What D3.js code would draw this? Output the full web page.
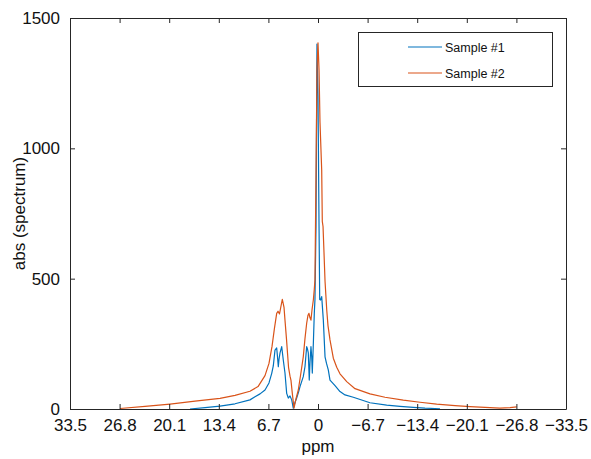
<!DOCTYPE html>
<html><head><meta charset="utf-8">
<script src="https://cdn.jsdelivr.net/npm/d3@7"></script>
<style>body{margin:0;background:#fff}svg{display:block;font-family:"Liberation Sans",Arial,Helvetica,sans-serif}</style>
</head><body><svg id="c" width="591" height="459"></svg>
<script>
const xTicks = [33.5, 26.8, 20.1, 13.4, 6.7, 0, -6.7, -13.4, -20.1, -26.8, -33.5];
const yTicks = [0, 500, 1000, 1500];
const seriesNames = ["Sample #1", "Sample #2"];
const seriesColors = ["#0072BD", "#D95319"];
// Sample #1 (blue): ppm and abs
const s1ppm = [17.29,15.26,13.24,11.21,9.19,8.51,7.83,7.16,6.62,6.25,6.04,5.81,5.58,5.47,5.36,5.27,5.13,4.90,4.69,4.46,4.32,4.23,4.01,3.78,3.55,3.34,3.11,2.88,2.63,2.43,1.99,1.76,1.53,1.42,1.31,1.18,1.08,0.95,0.85,0.77,0.63,0.50,0.41,0.27,0.14,0,-0.14,-0.23,-0.34,-0.50,-0.72,-0.95,-1.15,-1.39,-1.62,-2.30,-2.97,-3.65,-4.77,-7.02,-9.28,-11.08,-12.87,-14.45,-16.48];
const s1abs = [0,5,11,20,35,47,58,73,100,137,165,226,234,200,162,190,215,239,188,138,90,60,42,50,35,3,25,42,65,86,124,162,239,230,215,111,180,239,200,138,250,367,420,700,1400,1200,700,420,418,431,341,200,175,150,111,90,67,54,45,24,15,10,6,3,1];
// Sample #2 (red)
const s2ppm = [26.75,23.37,19.99,16.61,13.24,11.21,9.19,8.10,7.16,6.62,6.21,5.88,5.58,5.40,5.20,4.82,4.59,4.46,4.26,4.12,3.98,3.78,3.65,3.47,3.24,2.97,2.66,2.30,1.99,1.76,1.53,1.35,1.22,1.08,0.95,0.81,0.63,0.50,0.41,0.27,0.14,0,-0.14,-0.27,-0.50,-0.58,-0.68,-0.81,-0.95,-1.18,-1.35,-1.62,-2.07,-2.53,-2.97,-3.88,-5.00,-7.02,-9.05,-11.52,-13.78,-16.03,-18.51,-20.53,-22.56,-24.58,-25.94,-26.84];
const s2abs = [2,10,19,30,41,52,68,86,128,175,240,310,367,375,365,421,390,341,270,215,160,126,110,60,3,40,73,140,200,270,329,360,367,350,341,380,418,460,495,900,1300,1405,1300,1100,917,720,700,600,490,380,320,265,195,160,135,105,78,58,45,34,26,19,13,9,6,3,5,8];

const svg = d3.select("#c");
const L=70, R=566, T=18, B=409;
const x = d3.scaleLinear().domain([33.5,-33.5]).range([L,R]);
const y = d3.scaleLinear().domain([0,1500]).range([B,T]);
const fmt = v => (v<0 ? "\u2212"+Math.abs(v) : String(v));
const axisCol = "#262626";

svg.append("rect").attr("x",L).attr("y",T).attr("width",R-L).attr("height",B-T).attr("fill","#fff");

const line = d3.line().x(d=>x(d[0])).y(d=>y(d[1]));
const data = [d3.zip(s1ppm,s1abs), d3.zip(s2ppm,s2abs)];
data.forEach((d,i)=>{
  svg.append("path").datum(d).attr("d",line).attr("fill","none")
    .attr("stroke",seriesColors[i]).attr("stroke-width",1.2).attr("stroke-linejoin","round");
});

function styleAxis(g){
  g.selectAll(".domain").attr("stroke",axisCol);
  g.selectAll(".tick line").attr("stroke",axisCol);
  g.selectAll("text").attr("fill","#111").attr("font-size",17).attr("font-family","\"Liberation Sans\",Arial,sans-serif");
}
const gx = svg.append("g").attr("transform",`translate(0,${B})`)
  .call(d3.axisBottom(x).tickValues(xTicks).tickFormat(fmt).tickSizeInner(-5).tickSizeOuter(0).tickPadding(10));
styleAxis(gx);
const gxt = svg.append("g").attr("transform",`translate(0,${T})`)
  .call(d3.axisTop(x).tickValues(xTicks).tickFormat("").tickSizeInner(-5).tickSizeOuter(0));
styleAxis(gxt);
const gy = svg.append("g").attr("transform",`translate(${L},0)`)
  .call(d3.axisLeft(y).tickValues(yTicks).tickFormat(d3.format("d")).tickSizeInner(-5).tickSizeOuter(0).tickPadding(10));
styleAxis(gy);
const gyr = svg.append("g").attr("transform",`translate(${R},0)`)
  .call(d3.axisRight(y).tickValues(yTicks).tickFormat("").tickSizeInner(-5).tickSizeOuter(0));
styleAxis(gyr);

svg.append("text").attr("x",(L+R)/2).attr("y",452).attr("text-anchor","middle")
  .attr("font-size",17).attr("fill","#111").text("ppm");
svg.append("text").attr("transform",`translate(25,${(T+B)/2}) rotate(-90)`).attr("text-anchor","middle")
  .attr("font-size",17).attr("fill","#111").text("abs (spectrum)");

// legend
const lg = svg.append("g");
lg.append("rect").attr("x",358.5).attr("y",32.5).attr("width",194).attr("height",54)
  .attr("fill","#fff").attr("stroke",axisCol).attr("stroke-width",1);
seriesNames.forEach((n,i)=>{
  const yy = 47 + i*26;
  lg.append("line").attr("x1",408).attr("x2",442).attr("y1",yy).attr("y2",yy)
    .attr("stroke",seriesColors[i]).attr("stroke-width",1.2);
  lg.append("text").attr("x",445).attr("y",yy+4.5).attr("font-size",12.5).attr("fill","#111").text(n);
});
</script></body></html>
